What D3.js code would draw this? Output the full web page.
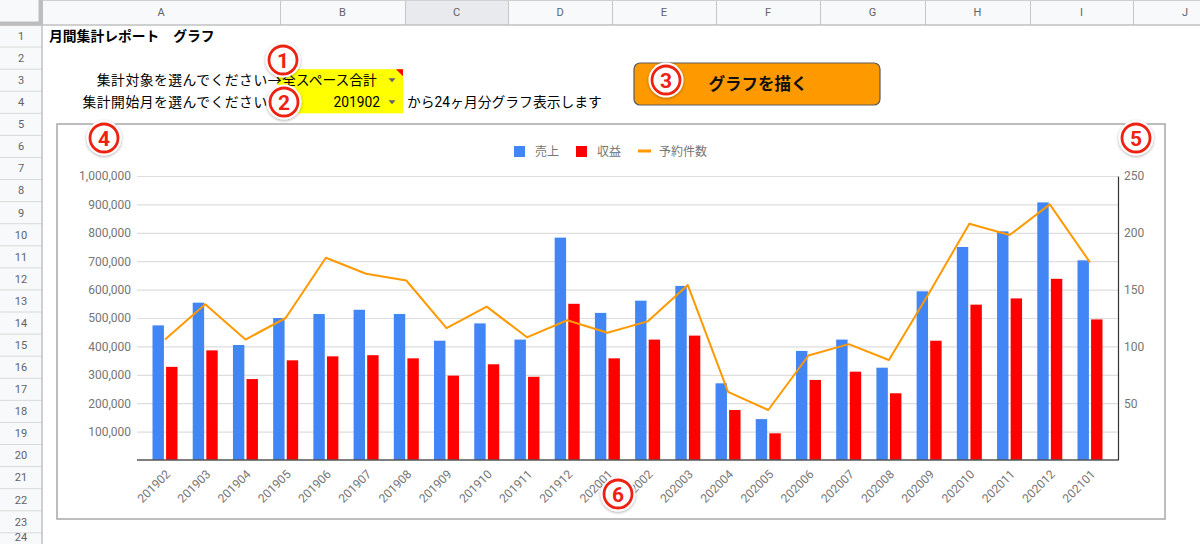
<!DOCTYPE html>
<html><head><meta charset="utf-8">
<script src="https://cdn.jsdelivr.net/npm/d3@7"></script>
<style>
html,body{margin:0;padding:0;background:#fff;overflow:hidden}
svg{display:block;font-family:Roboto,"Noto Sans CJK JP",sans-serif}
</style></head><body>
<svg id="c" width="1200" height="544"></svg>
<script>
// ---------- data ----------
const months = ["201902","201903","201904","201905","201906","201907","201908","201909","201910","201911","201912","202001",
                "202002","202003","202004","202005","202006","202007","202008","202009","202010","202011","202012","202101"];
const sales = [474000,554000,405000,500000,514000,529000,514000,420000,481000,424000,783000,518000,
               561000,613000,270000,144000,384000,424000,325000,594000,750000,805000,907000,703000];
const profit = [328000,386000,285000,351000,365000,369000,358000,297000,337000,293000,550000,358000,
                424000,438000,176000,94000,282000,311000,235000,420000,547000,569000,638000,495000];
const bookings = [106,137,106,125,178,164,158,116,135,108,123,112,122,154,60,44,92,102,88,147,208,198,225,174];
const leftTicks = [100000,200000,300000,400000,500000,600000,700000,800000,900000,1000000];
const rightTicks = [50,100,150,200,250];
const seriesNames = ["売上","収益","予約件数"];
const columnLetters = ["A","B","C","D","E","F","G","H","I","J"];
const rowNumbers = d3.range(1,25);
const titleText = "月間集計レポート　グラフ";
const label3 = "集計対象を選んでください→";
const value3 = "全スペース合計";
const label4 = "集計開始月を選んでください→";
const value4 = "201902";
const note4 = "から24ヶ月分グラフ表示します";
const buttonText = "グラフを描く";
const markers = ["1","2","3","4","5","6"];

// ---------- layout ----------
const svg = d3.select("#c");
const colEdges = [42,280,405,508,612,716,820,925,1030,1133,1237];
const headH = 25, rowH = 22.08, rowHeadW = 42;
const rowTop = k => headH + (k-1)*rowH;
const rowMid = k => rowTop(k) + rowH/2;
const jp = 'Roboto,"Noto Sans CJK JP",sans-serif';
const cellFont = 13.8;

// sheet headers
svg.append("rect").attr("x",0).attr("y",0).attr("width",1200).attr("height",headH).attr("fill","#f8f9fa");
svg.append("rect").attr("x",colEdges[2]).attr("y",0).attr("width",colEdges[3]-colEdges[2]).attr("height",headH).attr("fill","#e8eaed");
svg.append("rect").attr("x",0).attr("y",headH).attr("width",rowHeadW).attr("height",544-headH).attr("fill","#f8f9fa");
columnLetters.forEach((c,i)=>{
  svg.append("text").attr("x",(colEdges[i]+colEdges[i+1])/2).attr("y",headH/2).attr("dy","0.35em")
    .attr("text-anchor","middle").attr("font-size",11).attr("fill","#5f6368").text(c);
});
colEdges.forEach(x=>svg.append("line").attr("x1",x+0.5).attr("x2",x+0.5).attr("y1",0).attr("y2",headH).attr("stroke","#c7c7c7"));
rowNumbers.forEach(k=>{
  svg.append("text").attr("x",rowHeadW/2).attr("y",Math.min(rowMid(k),537)).attr("dy","0.35em")
    .attr("text-anchor","middle").attr("font-size",11).attr("fill","#5f6368").text(k);
  svg.append("line").attr("x1",0).attr("x2",rowHeadW).attr("y1",rowTop(k+1)).attr("y2",rowTop(k+1)).attr("stroke","#d9d9d9");
});
svg.append("line").attr("x1",0).attr("x2",1200).attr("y1",headH).attr("y2",headH).attr("stroke","#c0c0c0").attr("stroke-width",1.5);
svg.append("line").attr("x1",0).attr("x2",1200).attr("y1",0.5).attr("y2",0.5).attr("stroke","#d0d0d0");
svg.append("line").attr("x1",rowHeadW).attr("x2",rowHeadW).attr("y1",0).attr("y2",544).attr("stroke","#c0c0c0").attr("stroke-width",1.5);
// corner thick border
svg.append("rect").attr("x",0).attr("y",0).attr("width",rowHeadW).attr("height",headH).attr("fill","#f8f9fa");
svg.append("line").attr("x1",0).attr("x2",rowHeadW).attr("y1",headH-1.5).attr("y2",headH-1.5).attr("stroke","#bdbdbd").attr("stroke-width",4);
svg.append("line").attr("x1",rowHeadW-1.5).attr("x2",rowHeadW-1.5).attr("y1",0).attr("y2",headH).attr("stroke","#bdbdbd").attr("stroke-width",4);

// cells
svg.append("text").attr("x",49).attr("y",rowMid(1)).attr("dy","0.35em").attr("font-size",cellFont)
  .attr("font-weight","bold").attr("fill","#000").text(titleText);
svg.append("rect").attr("x",278).attr("y",rowTop(3)).attr("width",125).attr("height",rowH*2).attr("fill","#ffff00");
svg.append("path").attr("d",`M396,${rowTop(3)}H403V${rowTop(3)+7}Z`).attr("fill","#ff0000");
svg.append("text").attr("x",282).attr("y",rowMid(3)).attr("dy","0.35em").attr("font-size",cellFont).attr("text-anchor","end").attr("letter-spacing",0.5).attr("fill","#000").text(label3);
svg.append("text").attr("x",282).attr("y",rowMid(4)).attr("dy","0.35em").attr("font-size",cellFont).attr("text-anchor","end").attr("letter-spacing",0.5).attr("fill","#000").text(label4);
svg.append("text").attr("x",282).attr("y",rowMid(3)).attr("dy","0.35em").attr("font-size",cellFont).attr("fill","#000").text(value3);
svg.append("text").attr("x",380).attr("y",rowMid(4)).attr("dy","0.35em").attr("font-size",cellFont).attr("text-anchor","end").attr("fill","#000").text(value4);
svg.append("text").attr("x",407).attr("y",rowMid(4)).attr("dy","0.35em").attr("font-size",cellFont).attr("fill","#000").text(note4);
[3,4].forEach(k=>{
  const cy=rowMid(k);
  svg.append("path").attr("d",`M388.5,${cy-2}H395.5L392,${cy+2}Z`).attr("fill","#5f6368");
});

// button
svg.append("rect").attr("x",634).attr("y",63).attr("width",246).attr("height",42).attr("rx",6)
  .attr("fill","#ff9900").attr("stroke","#5a5a5a").attr("stroke-width",1.2);
svg.append("text").attr("x",758).attr("y",84).attr("dy","0.35em").attr("text-anchor","middle")
  .attr("font-size",16.5).attr("font-weight","bold").attr("fill","#111").text(buttonText);

// ---------- chart ----------
svg.append("rect").attr("x",57).attr("y",124).attr("width",1108).attr("height",395)
  .attr("fill","#fff").attr("stroke","#a8a8a8").attr("stroke-width",1.5);

const pl=137, pr=1118, pt=176, pb=460;
const y = d3.scaleLinear().domain([0,1000000]).range([pb,pt]);
const y2 = d3.scaleLinear().domain([0,250]).range([pb,pt]);
const x = d3.scaleBand().domain(months).range([144.9,1110.1]).padding(0);
const cx = m => x(m)+x.bandwidth()/2;
const xs = d3.scaleBand().domain(["s","p"]).range([-12.5,12.5]).paddingInner(0.16);

// left axis + grid
const gl = svg.append("g").attr("transform",`translate(${pl},0)`)
  .call(d3.axisLeft(y).tickValues(leftTicks).tickFormat(d3.format(",")).tickSize(-(pr-pl)).tickPadding(6));
gl.select(".domain").remove();
gl.selectAll(".tick line").attr("stroke","#dedede").attr("stroke-width",1.2);
gl.selectAll(".tick text").attr("fill","#757575").attr("font-size",12).attr("font-family",jp);

// right axis
const gr = svg.append("g").attr("transform",`translate(${pr},0)`)
  .call(d3.axisRight(y2).tickValues(rightTicks).tickSize(0).tickSizeOuter(0).tickPadding(6));
gr.select(".domain").attr("stroke","#333").attr("stroke-width",1.2);
gr.selectAll(".tick text").attr("fill","#757575").attr("font-size",12).attr("font-family",jp);

// bars
const barData = months.map((m,i)=>({m,s:sales[i],p:profit[i]}));
svg.append("g").selectAll("rect.s").data(barData).join("rect")
  .attr("x",d=>cx(d.m)+xs("s")).attr("width",xs.bandwidth())
  .attr("y",d=>y(d.s)).attr("height",d=>pb-y(d.s)).attr("fill","#4285f4");
svg.append("g").selectAll("rect.p").data(barData).join("rect")
  .attr("x",d=>cx(d.m)+xs("p")).attr("width",xs.bandwidth())
  .attr("y",d=>y(d.p)).attr("height",d=>pb-y(d.p)).attr("fill","#ff0000");

// baseline
svg.append("line").attr("x1",pl).attr("x2",pr).attr("y1",pb).attr("y2",pb).attr("stroke","#555").attr("stroke-width",1.6);

// line
svg.append("path").datum(months.map((m,i)=>[cx(m),y2(bookings[i])]))
  .attr("d",d3.line()).attr("fill","none").attr("stroke","#ff9900").attr("stroke-width",2).attr("stroke-linejoin","round");

// x axis labels
const gx = svg.append("g").attr("transform",`translate(0,${pb})`)
  .call(d3.axisBottom(x).tickSize(0));
gx.select(".domain").remove();
gx.selectAll(".tick text").attr("y",0).attr("x",0).attr("dy",0)
  .attr("transform","translate(6,15) rotate(-45)").attr("text-anchor","end")
  .attr("fill","#757575").attr("font-size",12).attr("font-family",jp);

// legend
const lg = svg.append("g").attr("font-size",12).attr("fill","#757575");
lg.append("rect").attr("x",514).attr("y",146).attr("width",11).attr("height",11).attr("fill","#4285f4");
lg.append("text").attr("x",535).attr("y",151.5).attr("dy","0.35em").text(seriesNames[0]);
lg.append("rect").attr("x",576).attr("y",146).attr("width",11).attr("height",11).attr("fill","#ff0000");
lg.append("text").attr("x",597).attr("y",151.5).attr("dy","0.35em").text(seriesNames[1]);
lg.append("line").attr("x1",638).attr("x2",651).attr("y1",151).attr("y2",151).attr("stroke","#ff9900").attr("stroke-width",3);
lg.append("text").attr("x",659).attr("y",151.5).attr("dy","0.35em").text(seriesNames[2]);

// circled markers
const defs = svg.append("defs");
const f = defs.append("filter").attr("id","sh").attr("x","-50%").attr("y","-50%").attr("width","200%").attr("height","200%");
f.append("feDropShadow").attr("dx",0).attr("dy",1).attr("stdDeviation",1.6).attr("flood-color","#000").attr("flood-opacity",0.35);
const markerPos = [[283,60],[284,102],[666,80],[104,138],[1136,138],[618,494]];
markers.forEach((t,i)=>{
  const [mx,my]=markerPos[i];
  const g=svg.append("g").attr("transform",`translate(${mx},${my})`);
  g.append("circle").attr("r",17.5).attr("fill","#fff").attr("filter","url(#sh)");
  g.append("circle").attr("r",14).attr("fill","none").attr("stroke","#ee2211").attr("stroke-width",2.8);
  g.append("text").attr("y",0).attr("dy","0.36em").attr("text-anchor","middle").attr("font-size",21)
    .attr("font-weight","bold").attr("fill","#ee2211").attr("font-family","Roboto,sans-serif").text(t);
});
</script>
</body></html>
